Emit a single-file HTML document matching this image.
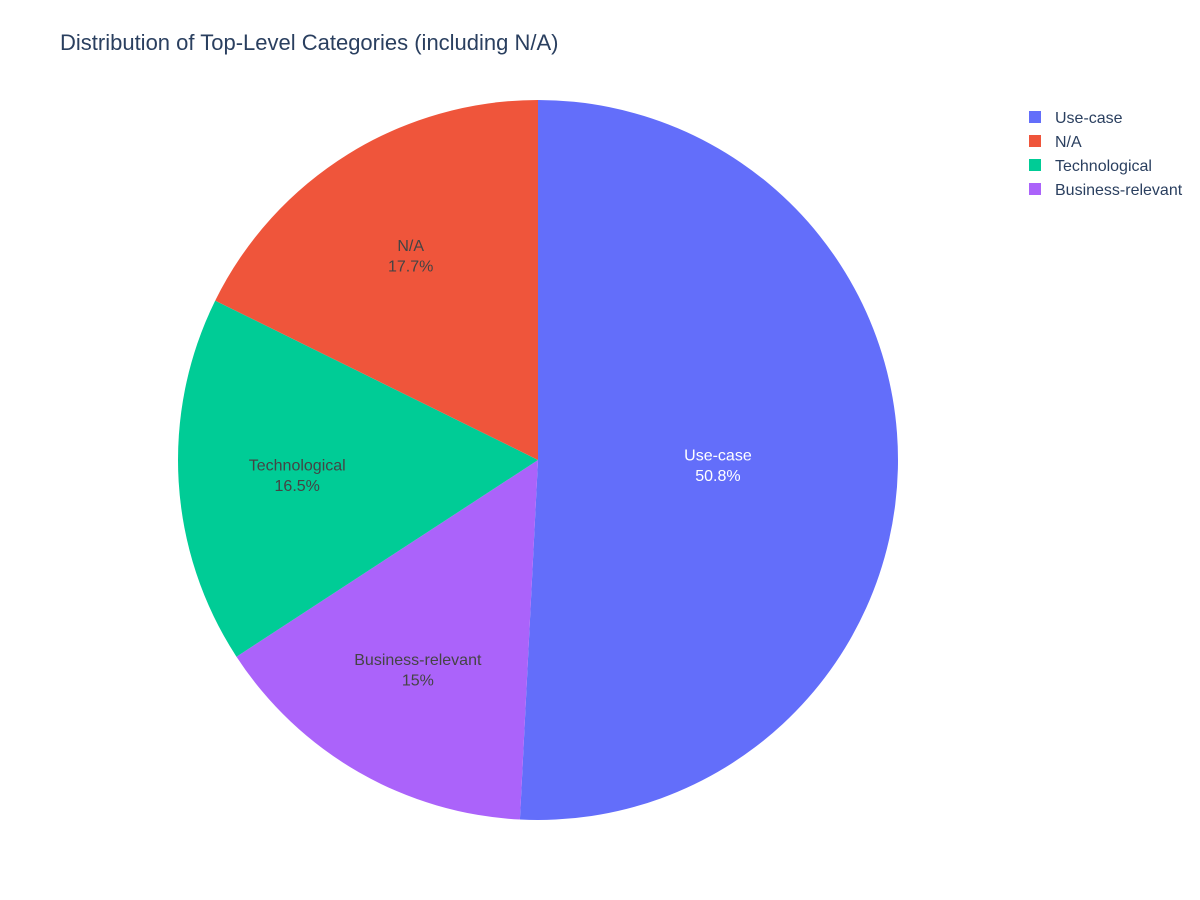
<!DOCTYPE html>
<html>
<head>
<meta charset="utf-8">
<style>
  html, body { margin: 0; padding: 0; background: #fff; }
  svg { display: block; font-family: "Liberation Sans", Arial, sans-serif; }
</style>
</head>
<body>
<svg id="chart" width="1200" height="900" viewBox="0 0 1200 900">
  <text x="60" y="50" font-size="22" fill="#2a3f5f">Distribution of Top-Level Categories (including N/A)</text>
  <g id="slices"></g>
  <g id="labels"></g>
  <g id="legend"></g>
</svg>
<script>
const categories = ["Use-case", "Business-relevant", "Technological", "N/A"];
const values = [50.8, 15.0, 16.5, 17.7];
const percentLabels = ["50.8%", "15%", "16.5%", "17.7%"];
const legendOrder = ["Use-case", "N/A", "Technological", "Business-relevant"];
const colors = {"Use-case": "#636efa", "N/A": "#ef553b", "Technological": "#00cc96", "Business-relevant": "#ab63fa"};
const textColors = {"Use-case": "#ffffff", "N/A": "#444444", "Technological": "#444444", "Business-relevant": "#444444"};

const NS = "http://www.w3.org/2000/svg";
const cx = 538, cy = 460, r = 360;
const total = values.reduce((a, b) => a + b, 0);
function pt(frac, rad) {
  const a = frac * 2 * Math.PI;
  return [cx + rad * Math.sin(a), cy - rad * Math.cos(a)];
}
const sg = document.getElementById("slices");
const lg = document.getElementById("labels");
let acc = 0;
categories.forEach((c, i) => {
  const f0 = acc / total, f1 = (acc + values[i]) / total;
  acc += values[i];
  const p0 = pt(f0, r), p1 = pt(f1, r);
  const large = (f1 - f0) > 0.5 ? 1 : 0;
  const path = document.createElementNS(NS, "path");
  path.setAttribute("d", `M${cx},${cy} L${p0[0]},${p0[1]} A${r},${r} 0 ${large} 1 ${p1[0]},${p1[1]} Z`);
  path.setAttribute("fill", colors[c]);
  
  
  sg.appendChild(path);
  const lr = (f1 - f0) > 0.4 ? 0.5 : 0.67;
  const m = pt((f0 + f1) / 2, r * lr);
  const t = document.createElementNS(NS, "text");
  t.setAttribute("x", m[0]);
  t.setAttribute("y", m[1] - 4);
  t.setAttribute("text-anchor", "middle");
  t.setAttribute("font-size", "16");
  t.setAttribute("fill", textColors[c]);
  
  
  const s1 = document.createElementNS(NS, "tspan");
  s1.setAttribute("x", m[0]);
  s1.textContent = c;
  const s2 = document.createElementNS(NS, "tspan");
  s2.setAttribute("x", m[0]);
  s2.setAttribute("dy", "20.5");
  s2.textContent = percentLabels[i];
  t.appendChild(s1); t.appendChild(s2);
  lg.appendChild(t);
});
const leg = document.getElementById("legend");
legendOrder.forEach((c, i) => {
  const g = document.createElementNS(NS, "g");
  
  
  const y = 117 + i * 24;
  const rect = document.createElementNS(NS, "rect");
  rect.setAttribute("x", 1029); rect.setAttribute("y", y - 6);
  rect.setAttribute("width", 12); rect.setAttribute("height", 12);
  rect.setAttribute("fill", colors[c]);
  const t = document.createElementNS(NS, "text");
  t.setAttribute("x", 1055); t.setAttribute("y", y + 6);
  t.setAttribute("font-size", "16"); t.setAttribute("fill", "#2a3f5f");
  t.textContent = c;
  g.appendChild(rect); g.appendChild(t);
  leg.appendChild(g);
});
</script>
</body>
</html>
